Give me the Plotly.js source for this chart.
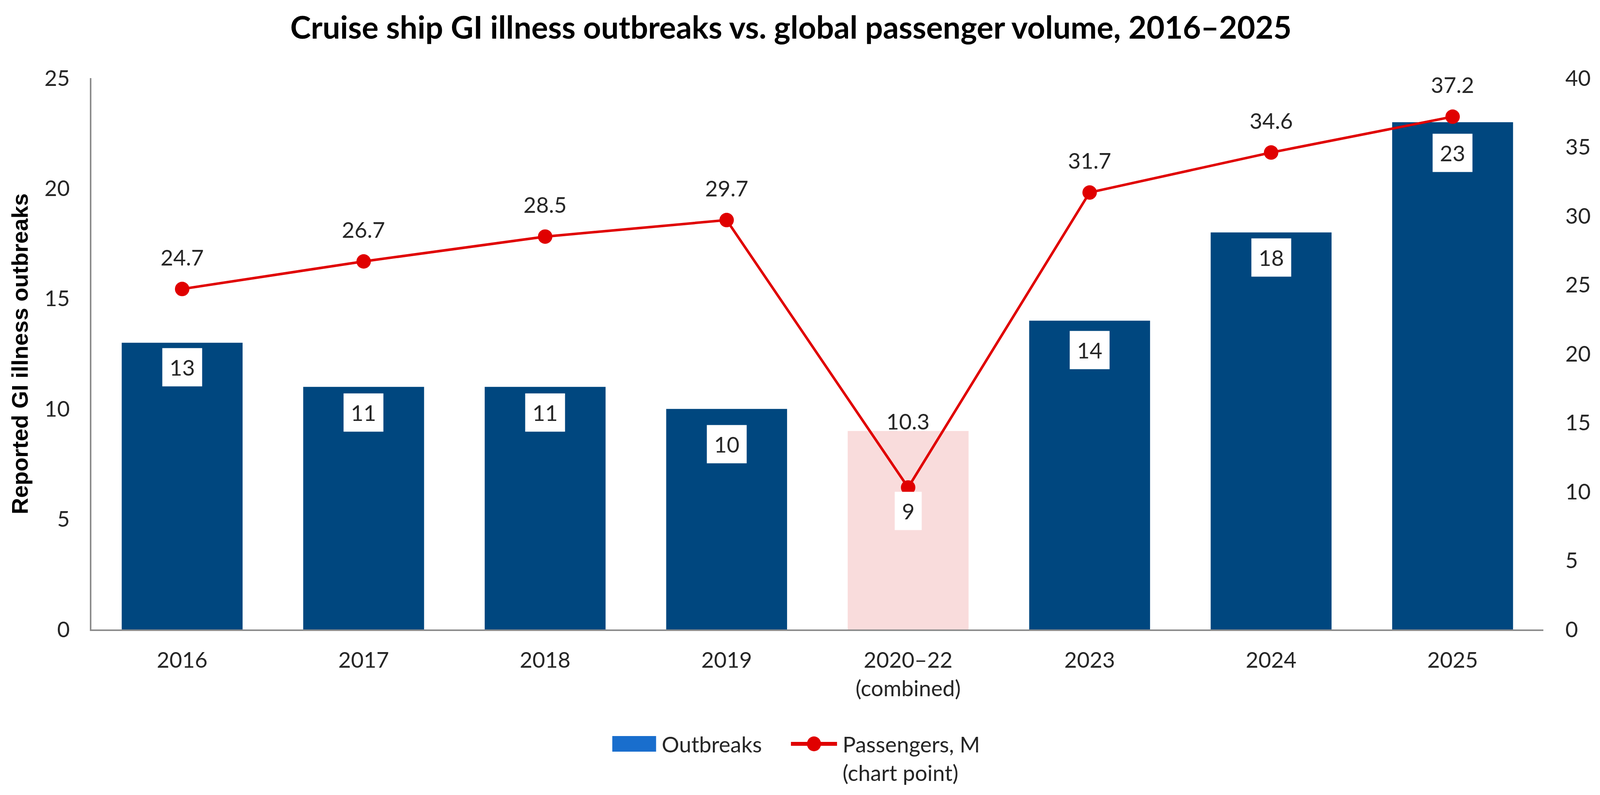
<!DOCTYPE html>
<html>
<head>
<meta charset="utf-8">
<script src="https://cdn.plot.ly/plotly-3.0.1.min.js"></script>
<style>
  html, body { margin: 0; padding: 0; background: #fff; overflow: hidden; }
</style>
</head>
<body>
<div id="chart"></div>
<script>
const categories = ["2016", "2017", "2018", "2019", "2020–22<br>(combined)", "2023", "2024", "2025"];
const outbreaks = [13, 11, 11, 10, 9, 14, 18, 23];
const passengers = [24.7, 26.7, 28.5, 29.7, 10.3, 31.7, 34.6, 37.2];

const NAVY = "#00477F";
const PINK = "#F9DCDC";
const RED = "#E00000";
const LEGEND_BLUE = "#196ECD";
const TEXT = "#262626";
const AXIS = "#8C8C8C";
const FONT = "Lato, 'Open Sans', sans-serif";

// designed for 4236 wide; the window may be narrower, so squeeze x positions to fit
const REF_W = 4236;
const W = Math.min(window.innerWidth || REF_W, REF_W);
const H = window.innerHeight || 2036;
const sx = W / REF_W;
const M = { l: 242 * sx, r: 150 * sx, t: 200, b: H - 1612 };

// label nudges in px – the source moved a few labels by hand
const barLabelShift = [-63, -66, -66, -90, -205, -75, -64, -79];
const lineLabelShift = [82, 82, 82, 82, 170, 82, 82, 82];

const barColors = categories.map(c => c.startsWith("2020") ? PINK : NAVY);

// reference-pixel -> paper helpers for the hand-built legend
const px = x => (x * sx - M.l) / (W - M.l - M.r);
const py = y => (H - M.b - y) / (H - M.t - M.b);

const traces = [
  {
    type: "bar",
    name: "Outbreaks",
    x: categories,
    y: outbreaks,
    marker: { color: barColors },
    width: 0.666,
    hoverinfo: "skip"
  },
  {
    type: "scatter",
    mode: "lines+markers",
    name: "Passengers, M (chart point)",
    x: categories,
    y: passengers,
    yaxis: "y2",
    line: { color: RED, width: 6.5 },
    marker: { color: RED, size: 37 },
    hoverinfo: "skip"
  }
];

const labelFont = { family: FONT, size: 56, color: TEXT };
const annotations = [];
// category axis: annotation x given as the category's serial number
outbreaks.forEach((v, i) => {
  annotations.push({
    x: i, y: v, xref: "x", yref: "y",
    text: String(v), showarrow: false,
    yanchor: "middle", yshift: barLabelShift[i],
    bgcolor: "#FFFFFF", borderpad: 18, height: 61,
    font: labelFont
  });
});
passengers.forEach((v, i) => {
  annotations.push({
    x: i, y: v, xref: "x", yref: "y2",
    text: v.toFixed(1), showarrow: false,
    yanchor: "middle", yshift: lineLabelShift[i],
    font: labelFont
  });
});

// legend, drawn by hand so the symbols keep the source's proportions
annotations.push(
  { xref: "paper", yref: "paper", x: px(1750), y: py(1905), xanchor: "left", yanchor: "middle",
    text: "Outbreaks", showarrow: false, font: labelFont },
  { xref: "paper", yref: "paper", x: px(2229), y: py(1942), xanchor: "left", yanchor: "middle",
    align: "left", text: "Passengers, M<br>(chart point)", showarrow: false, font: labelFont }
);
const shapes = [
  { type: "rect", xref: "paper", yref: "paper", xsizemode: "pixel", ysizemode: "pixel",
    xanchor: px(1679), yanchor: py(1905), x0: -58 * sx, x1: 58 * sx, y0: -20, y1: 20,
    fillcolor: LEGEND_BLUE, line: { width: 0 } },
  { type: "line", xref: "paper", yref: "paper", xsizemode: "pixel", ysizemode: "pixel",
    xanchor: px(2155), yanchor: py(1905), x0: -61 * sx, x1: 61 * sx, y0: 0, y1: 0,
    line: { color: RED, width: 10 } },
  { type: "circle", xref: "paper", yref: "paper", xsizemode: "pixel", ysizemode: "pixel",
    xanchor: px(2155), yanchor: py(1905), x0: -18, x1: 18, y0: -19, y1: 19,
    fillcolor: RED, line: { width: 0 } }
];

const layout = {
  width: W,
  height: H,
  margin: { l: M.l, r: M.r, t: M.t, b: M.b, pad: 0 },
  paper_bgcolor: "#FFFFFF",
  plot_bgcolor: "#FFFFFF",
  showlegend: false,
  font: { family: FONT, size: 56, color: TEXT },
  title: {
    text: "<b>Cruise ship GI illness outbreaks vs. global passenger volume, 2016–2025</b>",
    font: { family: FONT, size: 80, color: "#000000" },
    x: 0.4943, xanchor: "center",
    y: 1 - 71 / H, yanchor: "middle", yref: "container"
  },
  xaxis: {
    type: "category",
    range: [-0.5, categories.length - 0.5],
    showgrid: false,
    zeroline: false,
    showline: true,
    linecolor: AXIS,
    linewidth: 4,
    ticks: "",
    ticklabelstandoff: 27,
    tickfont: { family: FONT, size: 56, color: TEXT }
  },
  yaxis: {
    range: [0, 25],
    dtick: 5,
    showgrid: false,
    zeroline: false,
    showline: true,
    linecolor: AXIS,
    linewidth: 4,
    ticks: "",
    ticklabelstandoff: 40,
    tickfont: { family: FONT, size: 56, color: TEXT },
    title: {
      text: "<b>Reported GI illness outbreaks</b>",
      font: { family: "'Liberation Sans', Arial, sans-serif", size: 58, color: "#000000" },
      standoff: 25
    }
  },
  yaxis2: {
    overlaying: "y",
    side: "right",
    anchor: "x",
    range: [0, 40],
    dtick: 5,
    showgrid: false,
    zeroline: false,
    showline: false,
    ticks: "outside",
    ticklen: 44,
    tickcolor: "rgba(0,0,0,0)",
    tickfont: { family: FONT, size: 56, color: TEXT }
  },
  annotations: annotations,
  shapes: shapes
};

Plotly.newPlot("chart", traces, layout, { staticPlot: true, displayModeBar: false });
</script>
</body>
</html>
